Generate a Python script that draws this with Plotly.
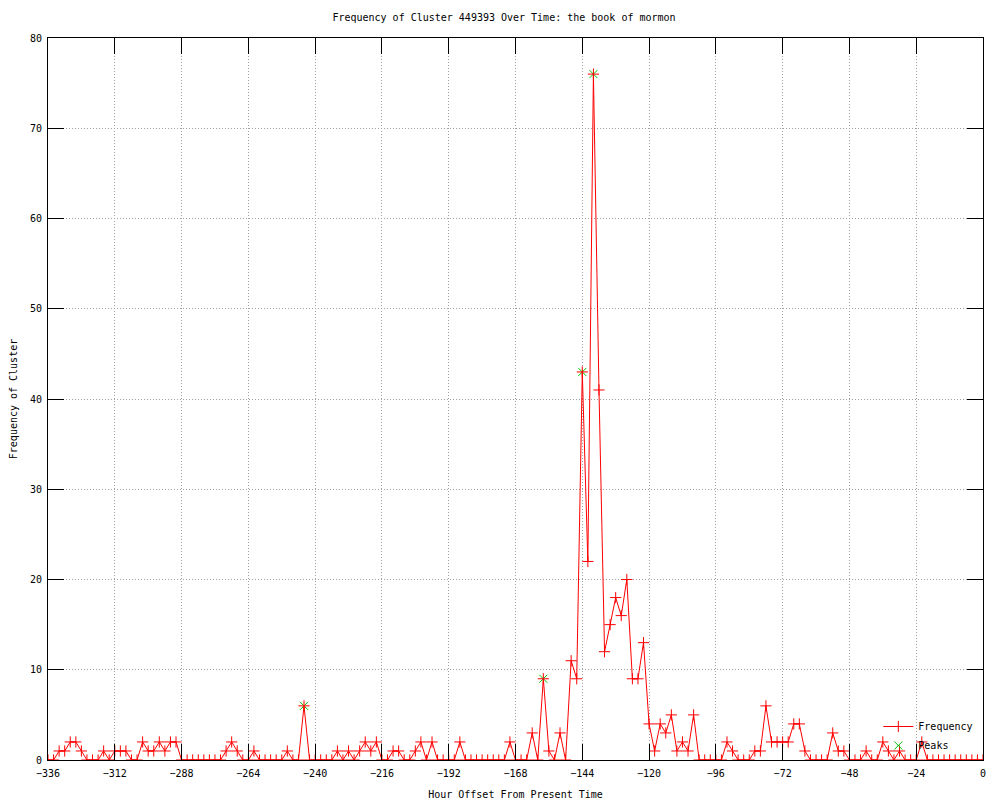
import plotly.graph_objects as go

hours = list(range(-336, 1, 2))
frequency = [
    0, 0, 1, 1, 2, 2, 1, 0, 0, 0,
    1, 0, 1, 1, 1, 0, 0, 2, 1, 1,
    2, 1, 2, 2, 0, 0, 0, 0, 0, 0,
    0, 0, 1, 2, 1, 0, 0, 1, 0, 0,
    0, 0, 0, 1, 0, 0, 6, 0, 0, 0,
    0, 0, 1, 0, 1, 0, 1, 2, 1, 2,
    0, 0, 1, 1, 0, 0, 1, 2, 0, 2,
    0, 0, 0, 0, 2, 0, 0, 0, 0, 0,
    0, 0, 0, 2, 0, 0, 0, 3, 0, 9,
    1, 0, 3, 0, 11, 9, 43, 22, 76, 41,
    12, 15, 18, 16, 20, 9, 9, 13, 4, 1,
    4, 3, 5, 1, 2, 1, 5, 0, 0, 0,
    0, 0, 2, 1, 0, 0, 0, 1, 1, 6,
    2, 2, 2, 2, 4, 4, 1, 0, 0, 0,
    0, 3, 1, 1, 0, 0, 0, 1, 0, 0,
    2, 1, 0, 1, 0, 0, 0, 2, 0, 0,
    0, 0, 0, 0, 0, 0, 0, 0, 0,
]
peak_hours = [-244, -158, -144, -140]
peak_values = [6, 9, 43, 76]

x_ticks = list(range(-336, 1, 24))
y_ticks = list(range(0, 81, 10))

FONT = "DejaVu Sans Mono"

fig = go.Figure()
fig.add_trace(go.Scatter(
    x=peak_hours, y=peak_values, mode="markers", name="Peaks",
    marker=dict(symbol="x-thin", size=8, line=dict(color="#00c000", width=1), color="#00c000"),
    legendrank=2,
))
fig.add_trace(go.Scatter(
    x=hours, y=frequency, mode="lines+markers", name="Frequency",
    line=dict(color="#ff0000", width=1),
    marker=dict(symbol="cross-thin", size=8, line=dict(color="#ff0000", width=1), color="#ff0000"),
    legendrank=1,
))

axis_common = dict(
    showline=True, linecolor="black", linewidth=1, mirror="ticks",
    ticks="inside", ticklen=16, tickcolor="black", tickwidth=1,
    showgrid=True, gridcolor="#a0a0a0", griddash="1px,2px", gridwidth=1,
    zeroline=False, automargin=False,
    tickfont=dict(family=FONT, size=10, color="black"),
)

# page body has an 8px default margin, so the figure is sized 992x792
fig.update_layout(
    width=992, height=792,
    paper_bgcolor="white", plot_bgcolor="white",
    margin=dict(l=40, r=17, t=30, b=40, autoexpand=False),
    title=dict(text="Frequency of Cluster 449393 Over Time: the book of mormon",
               x=0.5, xanchor="center", y=0.9874, yanchor="middle", automargin=False,
               font=dict(family=FONT, size=10, color="black")),
    xaxis=dict(range=[-336, 0], tickvals=x_ticks, ticklabelstandoff=4,
               title=dict(text="Hour Offset From Present Time", standoff=15,
                          font=dict(family=FONT, size=10, color="black")),
               **axis_common),
    yaxis=dict(range=[0, 80], tickvals=y_ticks, ticklabelstandoff=3,
               title=dict(text="Frequency of Cluster", standoff=12,
                          font=dict(family=FONT, size=10, color="black")),
               **axis_common),
    legend=dict(x=0.995, xanchor="right", y=0.0, yanchor="bottom",
                bgcolor="rgba(0,0,0,0)", font=dict(family=FONT, size=10, color="black"),
                tracegroupgap=0, itemwidth=30),
    showlegend=True,
)

fig.write_html("out.html")
